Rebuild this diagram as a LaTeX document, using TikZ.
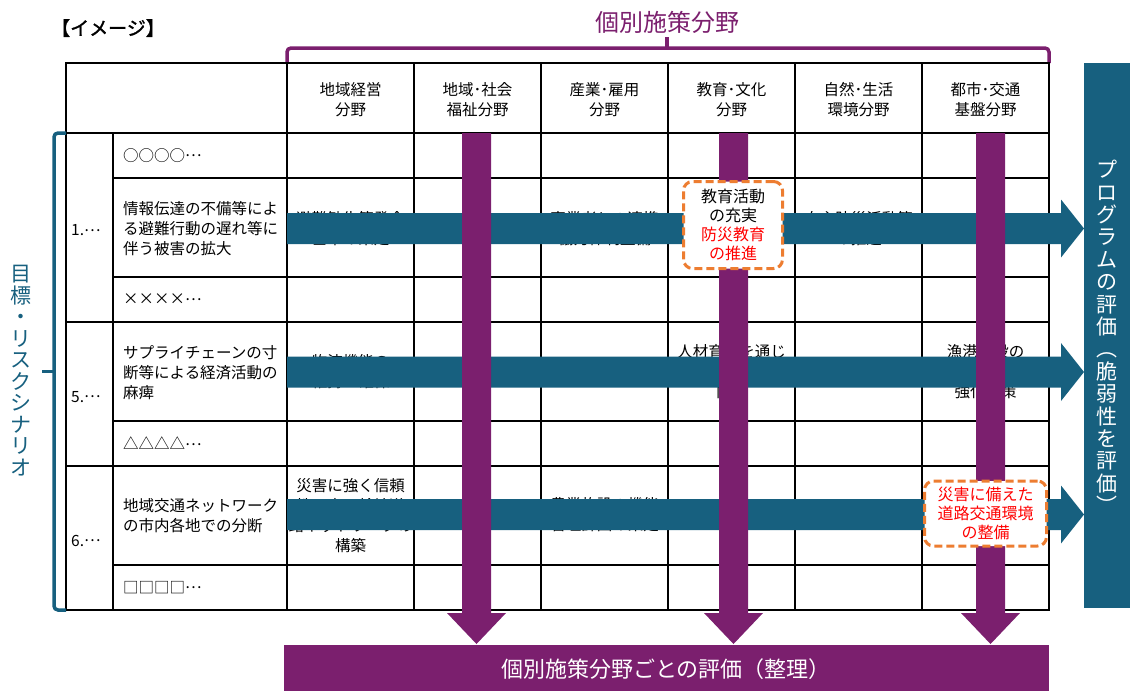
\documentclass[tikz,border=0pt]{standalone}
\usepackage{fontspec}
\setmainfont{Noto Sans CJK JP}
\newfontfamily\jpbold[FakeBold=1.5]{Noto Sans CJK JP}
\definecolor{pblue}{HTML}{17607F}
\definecolor{ppurple}{HTML}{7B1F6E}
\definecolor{porange}{HTML}{ED7D31}
\definecolor{pred}{HTML}{FF0000}
\newcommand\middots{\raisebox{0.3em}{…}}
\begin{document}
\begin{tikzpicture}[x=1pt,y=-1pt,
  grid/.style={line width=1.3pt,black},
  txt/.style={font=\fontsize{15.5}{20}\selectfont,inner sep=0pt,align=center},
  ltxt/.style={txt,align=left,anchor=west},
  obox/.style={draw=porange,line width=3pt,dash pattern=on 8pt off 4pt,rounded corners=9pt,fill=white,inner sep=0pt,align=center,font=\fontsize{16}{19}\selectfont},
  vtxt/.style={inner sep=0pt,align=center},
]
\useasboundingbox (0,0) rectangle (1130,691);

% title and label
\node[font=\jpbold\fontsize{19}{21}\selectfont] (img) at (108,28) {【イメージ】};
\node[font=\fontsize{24}{26}\selectfont,text=ppurple] (kobetsu) at (667,22) {個別施策分野};
\draw[ppurple,line width=3.5pt,rounded corners=4pt] (287,63) -- (287,48) -- (1049,48) -- (1049,63);
\draw[ppurple,line width=3.5pt] (667,48) -- (667,37);

% grid
\draw[grid] (66,63) rectangle (1049,610);
\foreach \x in {287,414,541,668,795,922} \draw[grid] (\x,63) -- (\x,610);
\draw[grid] (113,133) -- (113,610);
\draw[grid] (66,133) -- (1049,133);
\foreach \y in {322,466} \draw[grid] (66,\y) -- (1049,\y);
\foreach \y in {178,277,421,565} \draw[grid] (113,\y) -- (1049,\y);

% headers
\node[txt] (h1) at (350.5,100) {地域経営\\分野};
\node[txt] (h2) at (477.5,100) {地域･社会\\福祉分野};
\node[txt] (h3) at (604.5,100) {産業･雇用\\分野};
\node[txt] (h4) at (731.5,100) {教育･文化\\分野};
\node[txt] (h5) at (858.5,100) {自然･生活\\環境分野};
\node[txt] (h6) at (985.5,100) {都市･交通\\基盤分野};

% numbers
\node[ltxt] (n1) at (71,230.5) {1.\middots};
\node[ltxt] (n5) at (71,397) {5.\middots};
\node[ltxt] (n6) at (71,541) {6.\middots};

% row labels
\node[ltxt] (r1a) at (123,155.5) {○○○○\middots};
\node[ltxt] (r1b) at (123,229) {情報伝達の不備等によ\\る避難行動の遅れ等に\\伴う被害の拡大};
\node[ltxt] (r1c) at (123,299.5) {××××\middots};
\node[ltxt] (r5a) at (123,373) {サプライチェーンの寸\\断等による経済活動の\\麻痺};
\node[ltxt] (r5b) at (123,443.5) {△△△△\middots};
\node[ltxt] (r6a) at (123,516) {地域交通ネットワーク\\の市内各地での分断};
\node[ltxt] (r6b) at (123,587.5) {□□□□\middots};

% cell texts (partly hidden by arrows)
\node[txt] (c11) at (350.5,228.5) {避難勧告等発令\\基準の策定};
\node[txt] (c13) at (604.5,228.5) {事業者との連携\\協力体制整備};
\node[txt] (c15) at (858.5,228.5) {自主防災活動等\\の推進};
\node[txt] (c51) at (350.5,372) {物流機能の\\維持・確保};
\node[txt] (c54) at (731.5,371.5) {人材育成を通じ\\た地域防災力の\\向上};
\node[txt] (c56) at (985.5,371.5) {漁港施設の\\防波堤等の\\強化対策};
\node[txt] (c61) at (350.5,515.5) {災害に強く信頼\\性の高い幹線道\\路ネットワークの\\構築};
\node[txt] (c63) at (604.5,515) {農業施設の機能\\管理計画の策定};

% blue horizontal arrows
\foreach \c in {228.5,372,514.5}
  \fill[pblue] (287,{\c-15.5}) -- (1061,{\c-15.5}) -- (1061,{\c-29}) -- (1084,\c)
    -- (1061,{\c+29}) -- (1061,{\c+15.5}) -- (287,{\c+15.5}) -- cycle;

% purple vertical arrows
\foreach \x in {476.5,733.5,990.5}
  \fill[ppurple] ({\x-14.5},133) -- ({\x+14.5},133) -- ({\x+14.5},613) -- ({\x+29.5},613)
    -- (\x,644) -- ({\x-29.5},613) -- ({\x-14.5},613) -- cycle;

% highlighted boxes
\node[obox,minimum width=99pt,minimum height=87pt] (ob1) at (733,225)
  {教育活動\\の充実\\\textcolor{pred}{防災教育}\\\textcolor{pred}{の推進}};
\node[obox,minimum width=122pt,minimum height=65pt,text=pred] (ob2) at (985.5,513.5)
  {災害に備えた\\道路交通環境\\の整備};

% right program box
\fill[pblue] (1084,63) rectangle (1130,608);
\node[vtxt,font=\fontsize{21}{22.4}\selectfont,text=white] (prog) at (1107,337)
  {プ\\ロ\\グ\\ラ\\ム\\の\\評\\価\\︵\\脆\\弱\\性\\を\\評\\価\\︶};

% bottom box
\fill[ppurple] (284,645) rectangle (1049,691);
\node[font=\fontsize{22}{24}\selectfont,text=white] (eval) at (666,669) {個別施策分野ごとの評価（整理）};

% left bracket and label
\draw[pblue,line width=3.5pt,rounded corners=4pt] (66,133) -- (54,133) -- (54,610) -- (66,610);
\draw[pblue,line width=3.5pt] (54,371.5) -- (42,371.5);
\node[vtxt,font=\fontsize{21}{21.5}\selectfont,text=pblue] (goal) at (21,370.5)
  {目\\標\\・\\リ\\ス\\ク\\シ\\ナ\\リ\\オ};
\end{tikzpicture}
\end{document}
